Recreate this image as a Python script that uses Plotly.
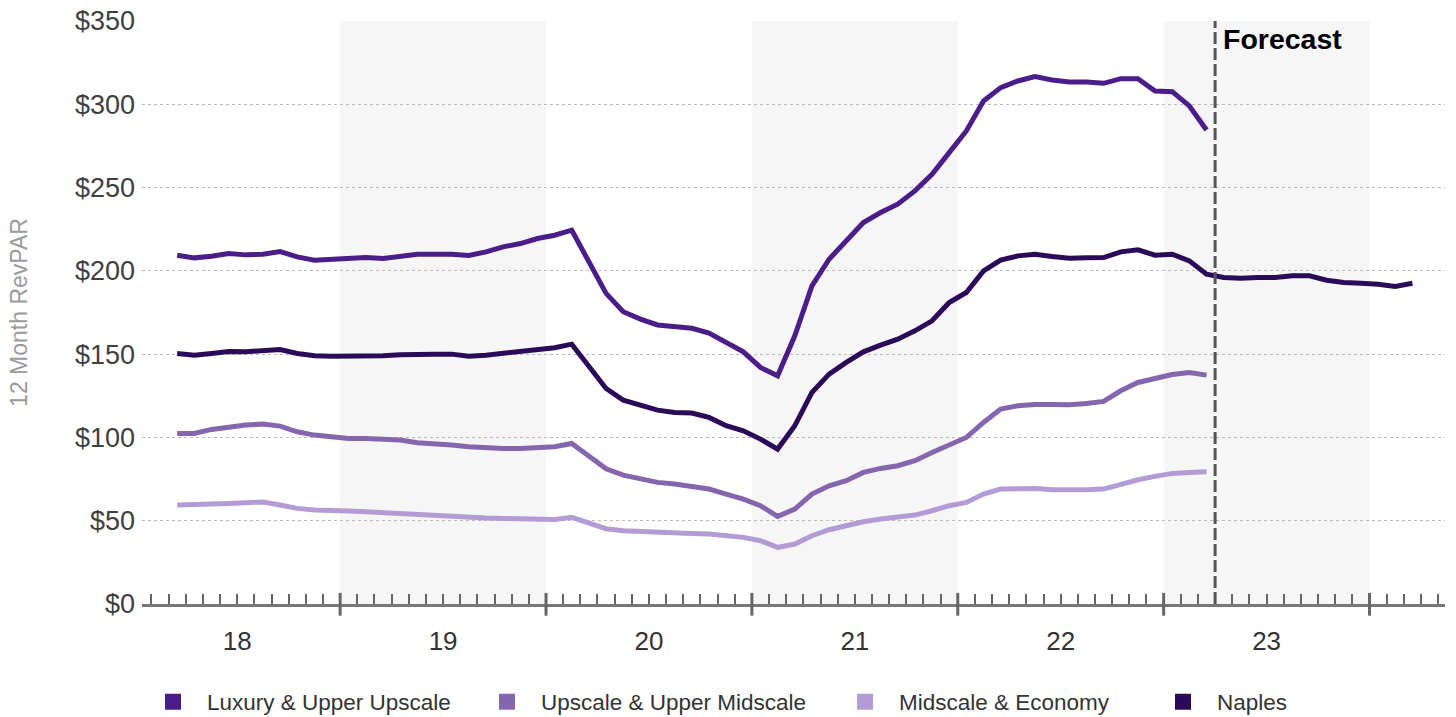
import plotly.graph_objects as go
import pandas as pd

# ---------------- data ----------------
months = pd.period_range("2018-03", "2024-03", freq="M")  # Naples incl. forecast
hist_months = pd.period_range("2018-03", "2023-03", freq="M")

year_labels = ["18", "19", "20", "21", "22", "23"]
y_ticks = [0, 50, 100, 150, 200, 250, 300, 350]
forecast_start = pd.Period("2023-04", freq="M")

luxury = [209.4, 207.8, 208.8, 210.4, 209.6, 210.0, 211.6, 208.4, 206.4, 206.8, 207.4, 208.0, 207.4, 208.8, 210.0,
          210.0, 210.0, 209.2, 211.4, 214.4, 216.4, 219.4, 221.4, 224.4,
          206.0, 186.5, 175.5, 171.0, 167.5, 166.5, 165.5, 162.6, 156.6, 151.4, 142.0, 137.0,
          161.0, 191.0, 207.0, 218.0, 229.0, 235.0, 240.0, 248.0, 258.0, 271.0, 284.0, 302.0,
          310.0, 314.0, 316.6, 314.6, 313.4, 313.4, 312.6, 315.4, 315.4, 308.0, 307.6, 299.0, 284.6]

upscale = [102.4, 102.4, 104.8, 106.4, 107.4, 108.0, 106.8, 103.4, 101.4, 100.4, 99.4, 99.4, 99.2, 98.4, 96.8,
           96.4, 95.4, 94.4, 93.8, 93.4, 93.4, 93.8, 94.4, 96.4,
           88.8, 81.2, 77.4, 75.0, 73.0, 72.0, 70.7, 69.0, 66.0, 63.0, 59.0, 52.6,
           57.0, 66.0, 71.0, 74.0, 79.0, 81.4, 83.0, 86.0, 91.0, 95.5, 100.0, 109.0,
           117.0, 119.0, 119.8, 119.8, 119.6, 120.4, 121.6, 128.0, 133.0, 135.4, 137.8, 139.0, 137.4]

midscale = [59.4, 59.4, 60.0, 60.4, 60.8, 61.2, 59.4, 57.4, 56.4, 55.8, 55.8, 55.4, 54.8, 54.0, 53.4,
            53.0, 52.6, 52.0, 51.6, 51.4, 51.2, 51.0, 50.8, 52.0,
            48.4, 45.2, 44.0, 43.4, 42.8, 42.6, 42.3, 42.0, 41.0, 40.0, 38.0, 34.0,
            36.0, 41.0, 44.6, 47.0, 49.4, 51.0, 52.0, 53.4, 56.0, 59.0, 61.0, 66.0,
            69.0, 69.4, 69.4, 68.6, 68.4, 68.6, 69.0, 72.0, 74.6, 76.6, 78.4, 79.0, 79.4]

naples = [150.4, 149.4, 150.4, 151.6, 151.4, 152.0, 152.8, 150.4, 149.0, 148.8, 148.8, 149.2, 149.0, 149.6, 150.0,
          150.0, 150.0, 148.8, 149.4, 150.4, 151.4, 152.8, 153.8, 156.0,
          142.6, 129.4, 122.4, 119.4, 116.4, 115.0, 114.6, 112.0, 107.0, 104.0, 99.0, 93.0,
          107.0, 127.0, 138.0, 145.0, 151.4, 155.4, 159.0, 164.0, 170.0, 181.0, 187.0, 200.0,
          206.4, 209.0, 210.0, 208.6, 207.6, 207.8, 208.0, 211.4, 212.6, 209.4, 210.0, 206.0, 198.0,
          196.0, 195.6, 196.0, 196.0, 197.0, 197.0, 194.4, 193.0, 192.6, 192.0, 190.6, 192.6]

series = [
    ("Luxury & Upper Upscale", luxury, "#4b1d88"),
    ("Upscale & Upper Midscale", upscale, "#8566ae"),
    ("Midscale & Economy", midscale, "#b39cd6"),
    ("Naples", naples, "#2b0b59"),
]

# ---------------- helpers ----------------
def mpos(p):
    """month position: months since Jan 2018, centred in the month"""
    return (p.year - 2018) * 12 + (p.month - 1) + 0.5

def boundary(p):
    return (p.year - 2018) * 12 + (p.month - 1)

x_all = [mpos(p) for p in months]
x_hist = [mpos(p) for p in hist_months]

FONT = "Liberation Sans, Arial, sans-serif"
W, H = 1456, 717

fig = go.Figure()

for name, vals, col in series:
    xs = x_all if len(vals) == len(x_all) else x_hist
    fig.add_trace(go.Scatter(x=xs, y=vals, mode="lines", name=name,
                             line=dict(color=col, width=5), showlegend=False,
                             hoverinfo="skip"))

# legend entries (square swatches), one legend each for exact placement
leg_text_px = [207, 541, 899, 1217]
ITEMW = 58
plot_l, plot_r, plot_t, plot_b = 142, 1445, 21, 604
legends = {}
for k, (name, vals, col) in enumerate(series):
    lname = "legend" if k == 0 else f"legend{k+1}"
    fig.add_trace(go.Scatter(x=[None], y=[None], mode="markers", name=name,
                             marker=dict(symbol="square", size=18, color=col),
                             legend=lname, showlegend=True))
    legends[lname] = dict(
        xref="container", yref="container",
        x=(leg_text_px[k] - (ITEMW + 10)) / W, xanchor="left",
        y=1 - 702 / H, yanchor="middle", orientation="h",
        itemwidth=ITEMW,
        font=dict(family=FONT, size=22.5, color="#333333"),
        bgcolor="rgba(0,0,0,0)", borderwidth=0,
    )

# shaded alternate years
years = [2018, 2019, 2020, 2021, 2022, 2023]
shapes = []
for yr in years:
    if (yr - 2018) % 2 == 1:
        shapes.append(dict(type="rect", xref="x", yref="paper",
                           x0=(yr - 2018) * 12, x1=(yr - 2018 + 1) * 12, y0=0, y1=1,
                           fillcolor="#f6f6f6", line=dict(width=0), layer="below"))
# year boundary ticks (crossing the axis)
for yr in years:
    shapes.append(dict(type="line", xref="x", yref="paper",
                       x0=(yr - 2018 + 1) * 12, x1=(yr - 2018 + 1) * 12, y0=-0.02, y1=0.019,
                       line=dict(color="#666666", width=3)))
# forecast divider
fx = boundary(forecast_start)
shapes.append(dict(type="line", xref="x", yref="paper", x0=fx, x1=fx, y0=0, y1=1,
                   line=dict(color="#555555", width=3, dash="12px,4px")))

fig.update_layout(
    width=W, height=H,
    margin=dict(l=plot_l, r=W - plot_r, t=plot_t, b=H - plot_b, autoexpand=False),
    paper_bgcolor="white", plot_bgcolor="white",
    shapes=shapes,
    font=dict(family=FONT),
    annotations=[dict(x=fx, y=1, xref="x", yref="paper", xanchor="left", yanchor="top",
                      xshift=6, yshift=0, text="<b>Forecast</b>", showarrow=False,
                      font=dict(family=FONT, size=28.5, color="#000000"))],
    **legends,
)

fig.update_xaxes(
    automargin=False,
    range=[0.45, 76.4],
    tickmode="array",
    tickvals=[(yr - 2018) * 12 + 6 for yr in years],
    ticktext=year_labels,
    ticks="inside", ticklen=10, tickwidth=1.5, tickcolor="#666666",
    minor=dict(tickmode="array", tickvals=list(range(1, 77)), ticks="inside",
               ticklen=10, tickwidth=1.5, tickcolor="#666666", showgrid=False),
    showline=True, linecolor="#777777", linewidth=3,
    showgrid=False, zeroline=False,
    ticklabelstandoff=12,
    tickfont=dict(family=FONT, size=26, color="#333333"),
)

fig.update_yaxes(
    automargin=False,
    range=[0, 350],
    tickmode="array", tickvals=y_ticks,
    ticktext=[f"${v}" for v in y_ticks],
    showgrid=True, gridcolor="#bbbbbb", griddash="dot", gridwidth=1,
    zeroline=False, showline=False, ticks="",
    ticklabelstandoff=6,
    tickfont=dict(family=FONT, size=27, color="#404040"),
    title=dict(text="12 Month RevPAR", standoff=40,
               font=dict(family=FONT, size=23, color="#9a9a9a")),
)

fig.write_html("out.html",
               config={"displayModeBar": False},
               post_script="document.body.style.margin='0';document.body.style.overflow='hidden';")
